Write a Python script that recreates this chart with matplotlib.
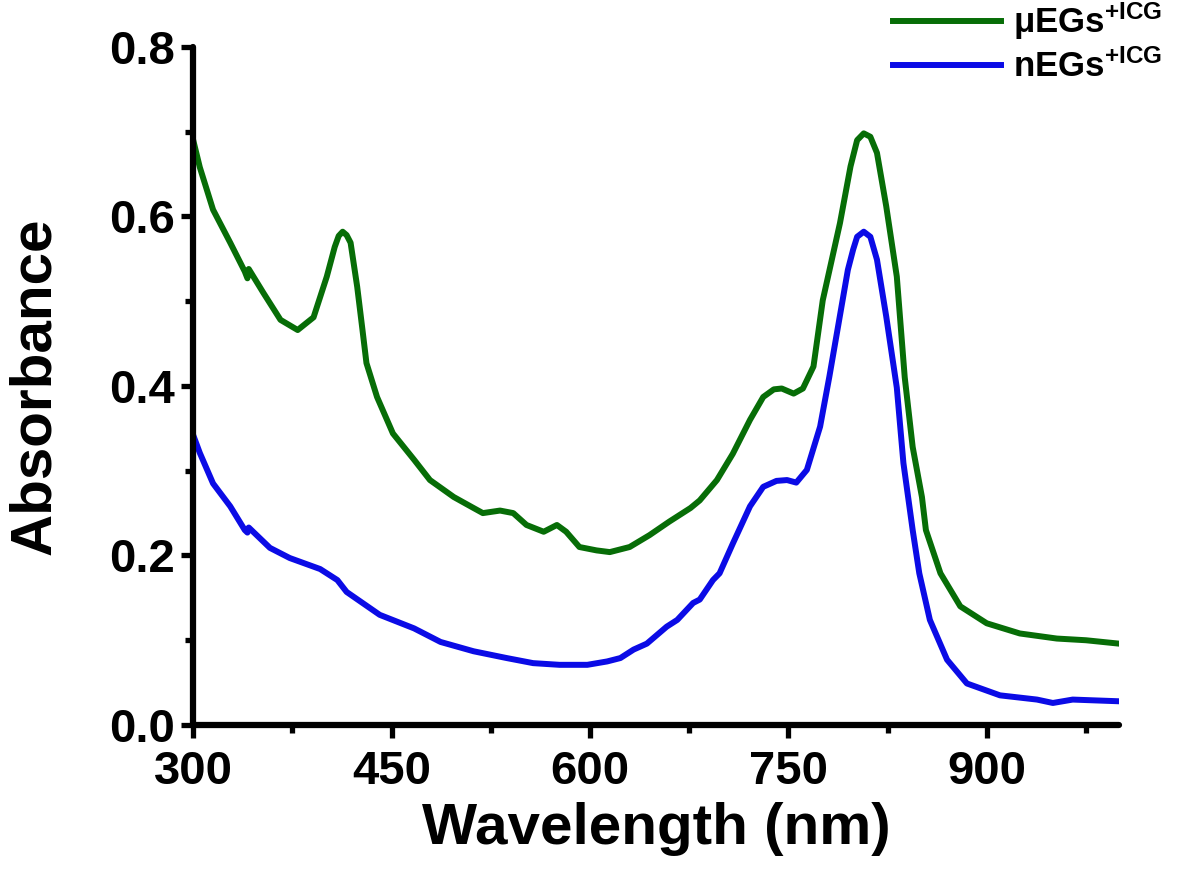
"""
UV-vis absorbance spectra of ICG-loaded erythrocyte ghosts (micro vs nano).
Saves out.png.
"""

import matplotlib
matplotlib.use("Agg")
import matplotlib.pyplot as plt
from matplotlib.ticker import MultipleLocator

plt.rcParams["font.family"] = ["Liberation Sans", "DejaVu Sans"]
plt.rcParams["font.weight"] = "bold"
plt.rcParams["mathtext.fontset"] = "custom"
plt.rcParams["mathtext.rm"] = "Liberation Sans:bold"
plt.rcParams["mathtext.bf"] = "Liberation Sans:bold"
plt.rcParams["mathtext.it"] = "Liberation Sans:bold"

# micro-sized ghosts (green)
wl_micro = [300, 305, 315, 328, 339, 341, 342, 353, 366, 379, 391, 401, 407, 410,
            413, 416, 419, 424, 428, 431, 439, 451, 467, 479, 497, 512, 519, 532,
            542, 552, 565, 575, 582, 592, 605, 615, 630, 645, 660, 676, 683, 696,
            708, 721, 731, 739, 745, 754, 761, 769, 776, 789, 797, 802, 807, 812,
            817, 824, 832, 838, 844, 851, 854, 865, 880, 900, 925, 953, 975, 1000]
abs_micro = [0.690, 0.658, 0.608, 0.569, 0.535, 0.527, 0.538, 0.510, 0.478, 0.466,
             0.481, 0.529, 0.564, 0.577, 0.582, 0.578, 0.569, 0.517, 0.466, 0.427,
             0.387, 0.344, 0.313, 0.289, 0.269, 0.256, 0.250, 0.253, 0.250, 0.236,
             0.228, 0.236, 0.228, 0.210, 0.206, 0.204, 0.210, 0.224, 0.240, 0.256,
             0.265, 0.289, 0.320, 0.360, 0.387, 0.396, 0.397, 0.391, 0.397, 0.423,
             0.501, 0.592, 0.659, 0.690, 0.698, 0.694, 0.675, 0.612, 0.529, 0.410,
             0.328, 0.269, 0.230, 0.179, 0.140, 0.120, 0.108, 0.102, 0.100, 0.096]

# nano-sized ghosts (blue)
wl_nano = [300, 305, 315, 328, 339, 341, 342, 358, 373, 396, 409, 416, 441, 467,
           487, 512, 537, 557, 577, 598, 613, 623, 633, 643, 658, 666, 678, 683,
           693, 698, 708, 721, 731, 741, 749, 756, 764, 774, 781, 791, 795, 799,
           802, 807, 812, 817, 824, 832, 837, 844, 849, 857, 870, 885, 910, 938,
           950, 965, 1000]
abs_nano = [0.342, 0.321, 0.285, 0.258, 0.230, 0.227, 0.233, 0.209, 0.197, 0.184,
            0.171, 0.157, 0.130, 0.114, 0.098, 0.087, 0.079, 0.073, 0.071, 0.071,
            0.075, 0.079, 0.089, 0.096, 0.116, 0.124, 0.144, 0.148, 0.171, 0.179,
            0.214, 0.258, 0.281, 0.288, 0.289, 0.286, 0.301, 0.352, 0.411, 0.501,
            0.537, 0.561, 0.576, 0.582, 0.576, 0.549, 0.482, 0.398, 0.309, 0.230,
            0.179, 0.124, 0.077, 0.049, 0.035, 0.030, 0.026, 0.030, 0.028]

fig = plt.figure(figsize=(12, 8.69), dpi=100)
ax = fig.add_axes([0.161, 0.1657, 0.7715, 0.7803])

ax.plot(wl_micro, abs_micro, color="#076d07", lw=4.3, solid_joinstyle="round",
        label=r"μEGs$^{+ICG}$")
ax.plot(wl_nano, abs_nano, color="#0b0be6", lw=4.3, solid_joinstyle="round",
        label=r"nEGs$^{+ICG}$")

ax.set_xlim(300, 1000)
ax.set_ylim(0, 0.8)
ax.xaxis.set_major_locator(MultipleLocator(150))
ax.xaxis.set_minor_locator(MultipleLocator(75))
ax.yaxis.set_major_locator(MultipleLocator(0.2))
ax.yaxis.set_minor_locator(MultipleLocator(0.1))
ax.yaxis.set_major_formatter(plt.FuncFormatter(lambda v, _: f"{v:.1f}"))

for side in ("top", "right"):
    ax.spines[side].set_visible(False)
for side in ("left", "bottom"):
    ax.spines[side].set_linewidth(4.5)
    ax.spines[side].set_capstyle("round")

ax.tick_params(which="major", direction="out", length=9, width=3.8, labelsize=34)
ax.tick_params(which="minor", direction="out", length=6, width=3.8)
ax.tick_params(axis="x", which="major", pad=9)
ax.tick_params(axis="y", which="major", pad=4)

ax.set_xlabel("Wavelength (nm)", fontsize=42, fontweight="bold", labelpad=6)
ax.set_ylabel("Absorbance", fontsize=42, fontweight="bold", labelpad=34)

leg = ax.legend(loc="upper left", bbox_to_anchor=(893 / 1200, 0.999),
                bbox_transform=fig.transFigure, frameon=False, fontsize=25,
                handlelength=3.1, handletextpad=0.35, labelspacing=0.2,
                borderpad=0, borderaxespad=0)

fig.savefig("out.png", dpi=100)
